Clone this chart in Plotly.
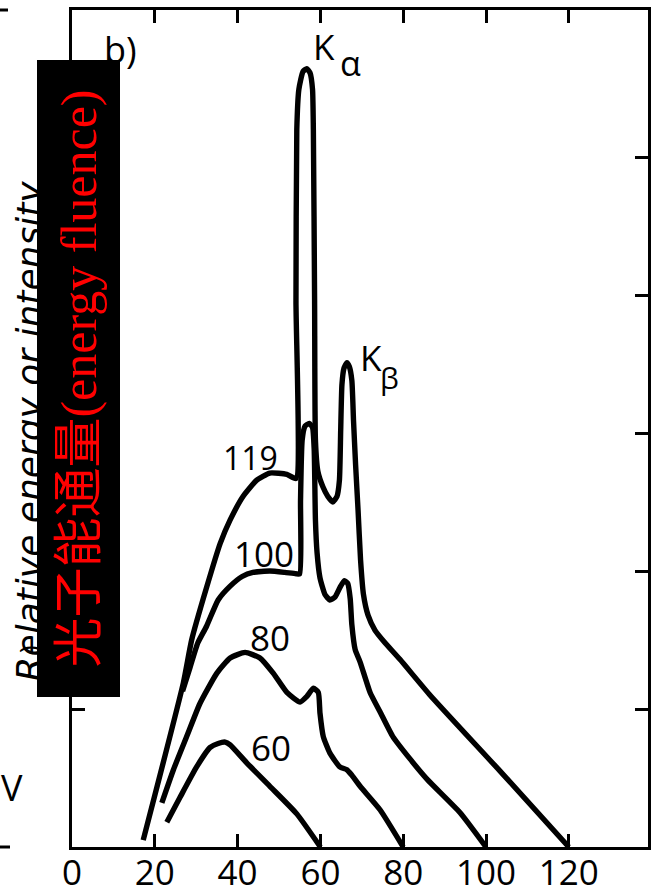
import plotly.graph_objects as go

# ---- data (photon energy in keV vs relative energy fluence) ----
kvp_labels = ["119", "100", "80", "60"]

e119 = [17.2, 26.9, 28.9, 32.5, 35.8, 38.2, 41.3, 44.7, 47.8, 51.9, 54.1, 54.1, 54.3, 54.8, 55.8,
        56.7, 57.5, 58.1, 58.3, 58.6, 58.8, 59.4, 60.6, 61.8, 63.0, 64.0, 64.6, 64.9, 65.2, 65.7,
        66.4, 67.0, 67.6, 68.0, 68.5, 69.1, 69.7, 70.4, 71.5, 73.2, 75.6, 79.2, 86.5, 103.4, 120.0]
i119 = [0.05, 1.19, 1.50, 1.88, 2.20, 2.37, 2.54, 2.66, 2.71, 2.70, 2.67, 3.96, 5.20, 5.49, 5.62,
        5.64, 5.61, 5.49, 5.20, 3.96, 2.95, 2.72, 2.61, 2.54, 2.50, 2.54, 2.66, 3.02, 3.35, 3.47,
        3.51, 3.48, 3.38, 3.09, 2.77, 2.44, 2.08, 1.83, 1.68, 1.57, 1.48, 1.36, 1.10, 0.55, 0.0]

e100 = [26.7, 28.5, 30.4, 32.5, 35.3, 38.2, 41.1, 43.7, 47.8, 51.4, 54.1, 55.0, 55.2, 55.6, 56.3,
        57.3, 58.1, 58.5, 58.8, 59.2, 59.9, 61.1, 62.3, 63.5, 64.7, 65.8, 66.6, 67.2, 67.6, 68.4,
        69.6, 72.0, 74.4, 77.5, 81.6, 85.8, 93.7, 100.0]
i100 = [1.13, 1.30, 1.48, 1.60, 1.79, 1.89, 1.96, 1.99, 2.00, 1.99, 1.98, 1.98, 2.51, 2.95, 3.05,
        3.07, 3.04, 2.88, 2.37, 2.13, 1.95, 1.83, 1.79, 1.81, 1.88, 1.93, 1.91, 1.80, 1.61, 1.43,
        1.34, 1.12, 0.98, 0.80, 0.64, 0.49, 0.25, 0.0]

e80 = [21.7, 24.5, 27.7, 30.9, 35.0, 38.2, 41.8, 45.4, 48.6, 51.9, 55.1, 56.7, 58.3, 59.5, 59.9,
       60.7, 62.3, 64.7, 66.4, 67.6, 69.6, 74.4, 80.0]
i80 = [0.32, 0.56, 0.80, 1.04, 1.26, 1.37, 1.41, 1.37, 1.26, 1.12, 1.05, 1.09, 1.15, 1.12, 0.97,
       0.80, 0.68, 0.58, 0.56, 0.52, 0.44, 0.27, 0.0]

e60 = [22.9, 26.1, 30.1, 33.3, 35.3, 37.0, 38.2, 42.2, 47.8, 54.3, 60.0]
i60 = [0.18, 0.36, 0.58, 0.72, 0.75, 0.76, 0.74, 0.61, 0.44, 0.24, 0.0]

# label anchor positions (data units)
label_x = [43.0, 46.4, 47.8, 48.1]
label_y = [2.82, 2.13, 1.52, 0.72]

x_tickvals = [0, 20, 40, 60, 80, 100, 120]
x_ticktext = ["0", "20", "40", "60", "80", "100", "120"]
y_tickvals = [1, 2, 3, 4, 5]

# ---- figure ----
W, H = 654, 895
ML, MR, MT, MB = 72, 6, 10, 48
PW, PH = W - ML - MR, H - MT - MB


def px2paper_x(px):
    return (px - ML) / PW


def px2paper_y(py):
    return (H - MB - py) / PH


fig = go.Figure()
for ex, iy in [(e119, i119), (e100, i100), (e80, i80), (e60, i60)]:
    fig.add_trace(go.Scatter(x=ex, y=iy, mode="lines",
                             line=dict(color="black", width=5.4, shape="spline", smoothing=0.5),
                             hoverinfo="skip", showlegend=False))

label_font = dict(family="Open Sans, DejaVu Sans, sans-serif", size=34, color="black")
ann = []
for t, lx, ly in zip(kvp_labels, label_x, label_y):
    ann.append(dict(x=lx, y=ly, xref="x", yref="y", text=t, showarrow=False,
                    font=dict(label_font, size=32 if t == "119" else 35)))

ann += [
    dict(x=11.8, y=5.78, xref="x", yref="y", text="b)", showarrow=False,
         font=dict(label_font, size=36)),
    dict(x=60.9, y=5.80, xref="x", yref="y", text="K", showarrow=False,
         font=dict(label_font, size=35)),
    dict(x=67.2, y=5.68, xref="x", yref="y", text="α", showarrow=False,
         font=dict(label_font, size=34)),
    dict(x=72.2, y=3.55, xref="x", yref="y", text="K", showarrow=False,
         font=dict(label_font, size=35)),
    dict(x=76.6, y=3.40, xref="x", yref="y", text="β", showarrow=False,
         font=dict(label_font, size=30)),
    # fragments of the neighbouring panel
    dict(x=px2paper_x(24), y=px2paper_y(787), xref="paper", yref="paper", text="V",
         showarrow=False, xanchor="right", yanchor="middle", borderpad=0,
         font=dict(label_font, size=36)),
    dict(x=px2paper_x(8), y=px2paper_y(655), xref="paper", yref="paper", text=")",
         showarrow=False, textangle=-90, font=dict(label_font, size=26)),
    # original axis title (mostly hidden by the overlay box)
    dict(x=px2paper_x(28.5), y=px2paper_y(431), xref="paper", yref="paper",
         text="Relative energy or intensity", showarrow=False, textangle=-90,
         xanchor="center", yanchor="middle",
         font=dict(family="DejaVu Sans", size=36, color="black", style="italic")),
    # overlay box with the red Chinese label
    dict(x=px2paper_x(78.5), y=px2paper_y(378.5), xref="paper", yref="paper",
         text="光子能通量(energy fluence)", showarrow=False, textangle=-90,
         xanchor="center", yanchor="middle", bgcolor="black", borderpad=0, borderwidth=0,
         width=637, height=83, align="center", valign="middle",
         font=dict(family="Liberation Serif, Noto Sans CJK SC, serif", size=50, color="#ff0000")),
]

shapes = [
    dict(type="line", xref="paper", yref="paper", x0=px2paper_x(0), x1=px2paper_x(8),
         y0=1, y1=1, line=dict(color="black", width=3)),
    dict(type="line", xref="paper", yref="paper", x0=px2paper_x(0), x1=px2paper_x(10),
         y0=0, y1=0, line=dict(color="black", width=3)),
]

fig.update_layout(
    width=W, height=H, autosize=False,
    margin=dict(l=ML, r=MR, t=MT, b=MB, pad=0, autoexpand=False),
    paper_bgcolor="white", plot_bgcolor="white",
    annotations=ann, shapes=shapes,
    xaxis=dict(range=[0, PW / 4.14], tickvals=x_tickvals, ticktext=x_ticktext,
               ticks="inside", ticklen=13, tickwidth=2.5, tickcolor="black",
               showline=True, linecolor="black", linewidth=3, mirror="ticks",
               showgrid=False, zeroline=False, ticklabelstandoff=-7, automargin=False,
               tickfont=dict(family="Open Sans, DejaVu Sans, sans-serif", size=35, color="black")),
    yaxis=dict(range=[0, PH / 138.0], tickvals=y_tickvals, showticklabels=False,
               ticks="inside", ticklen=13, tickwidth=2.5, tickcolor="black",
               showline=True, linecolor="black", linewidth=3, mirror="ticks",
               showgrid=False, zeroline=False, automargin=False),
)

fig.write_html("out.html", config={"displayModeBar": False})
